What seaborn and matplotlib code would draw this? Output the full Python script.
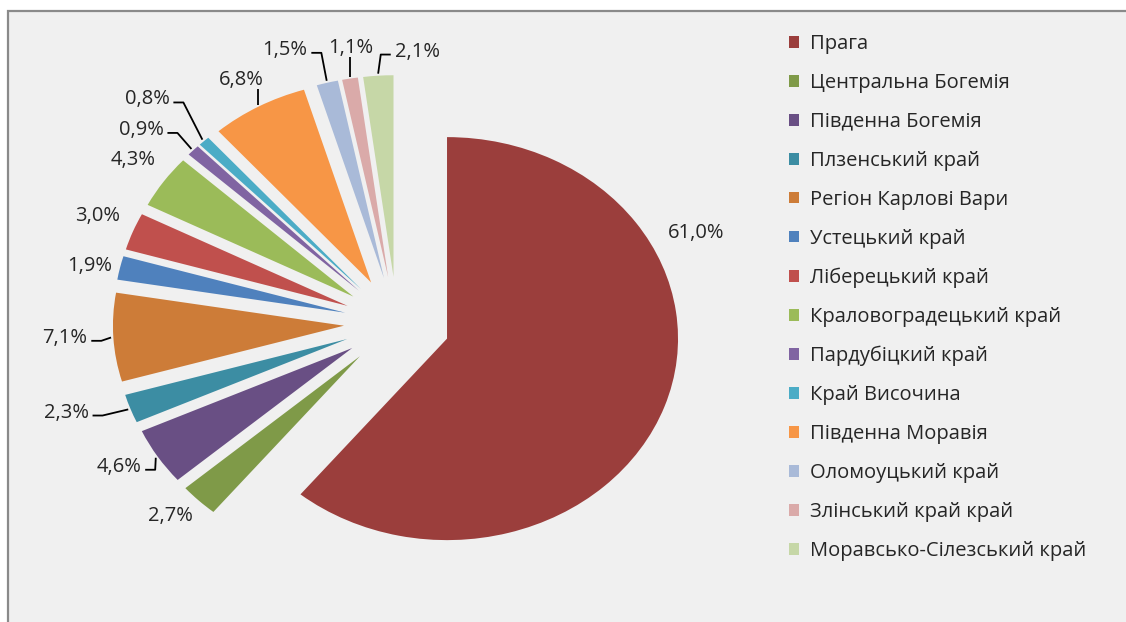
import matplotlib
matplotlib.use("Agg")
import numpy as np
import matplotlib.pyplot as plt
from matplotlib.patches import Rectangle
import seaborn as sns

# data
regions = [
    "Прага", "Центральна Богемія", "Південна Богемія", "Плзенський край",
    "Регіон Карлові Вари", "Устецький край", "Ліберецький край",
    "Краловоградецький край", "Пардубіцкий край", "Край Височина",
    "Південна Моравія", "Оломоуцький край", "Злінський край край",
    "Моравсько-Сілезський край",
]
shares = [61.0, 2.7, 4.6, 2.3, 7.1, 1.9, 3.0, 4.3, 0.9, 0.8, 6.8, 1.5, 1.1, 2.1]
region_colors = [
    "#9B3E3C", "#7F9A48", "#694F84", "#3C8DA3", "#CD7C38", "#4F81BD", "#C0504D",
    "#9BBB59", "#8064A2", "#4BACC6", "#F79646", "#A9BAD8", "#DAAAA9", "#C6D7A7",
]

# label placement: (angle shift in deg, radius from centre, draw leader line)
label_layout = [
    (38.7, 1.37, False),
    (-1.5, 1.37, False),
    (-2.0, 1.40, True),
    (-3.0, 1.50, True),
    (-0.4, 1.44, True),
    (0.9, 1.36, False),
    (-0.7, 1.40, False),
    (-0.5, 1.40, False),
    (3.3, 1.465, True),
    (1.5, 1.55, True),
    (0.1, 1.38, True),
    (5.5, 1.44, True),
    (-1.2, 1.38, True),
    (-7.5, 1.35, True),
]

sns.set_theme(style="white")
plt.rcParams["font.family"] = ["Open Sans", "DejaVu Sans"]
text_color = "#262626"

W, H = 1126, 622
fig = plt.figure(figsize=(W / 100, H / 100), dpi=100)
fig.patch.set_facecolor("white")

# grey panel with border on the left and top
fig.patches.append(Rectangle((8 / W, -0.05), 1.2, 1.05 - 11 / H,
                             transform=fig.transFigure, facecolor="#f0f0f0",
                             edgecolor="#8a8a8a", linewidth=1.6, zorder=-5))

ax = fig.add_axes([0, 0, 1, 1])
ax.set_facecolor("none")

palette = sns.color_palette(region_colors)
wedges, _ = ax.pie(shares, explode=[0.23] * len(shares), colors=palette,
                   startangle=90, counterclock=False,
                   wedgeprops=dict(linewidth=0))

# Excel-like stretched layout
ax.set_aspect("auto")
cx, cy, sx, sy = 397, 323, 231, 201.5
ax.set_xlim(-cx / sx, (W - cx) / sx)
ax.set_ylim((cy - H) / sy, cy / sy)
ax.axis("off")

texts = []
for w, val, (dang, rad, lead) in zip(wedges, shares, label_layout):
    mid = np.deg2rad((w.theta1 + w.theta2) / 2)
    a = mid + np.deg2rad(dang)
    t = ax.text(rad * np.cos(a), rad * np.sin(a), f"{val:.1f}%".replace(".", ","),
                ha="center", va="center", fontsize=14.5, color=text_color)
    texts.append((t, mid, lead))

fig.canvas.draw()
inv = ax.transData.inverted()
for t, mid, lead in texts:
    if not lead:
        continue
    bb = t.get_window_extent()
    px, py = ax.transData.transform((1.24 * np.cos(mid), 1.24 * np.sin(mid)))
    if bb.x0 - 2 <= px <= bb.x1 + 2:
        pts = [(px, bb.y0 + 1), (px, py)]
    else:
        side = 1 if px > bb.x1 else -1
        ax0 = bb.x1 + 4 if side > 0 else bb.x0 - 4
        ly = (bb.y0 + bb.y1) / 2 - 3
        pts = [(ax0, ly), (ax0 + side * 10, ly), (px, py)]
    d = inv.transform(pts)
    ax.plot(d[:, 0], d[:, 1], color="black", linewidth=1.3, solid_capstyle="butt")

leg = ax.legend(wedges, regions, loc="upper left",
                bbox_to_anchor=(789 / W, 1 - 34 / H), bbox_transform=fig.transFigure,
                frameon=False, fontsize=14.5, handlelength=0.52, handleheight=0.52,
                handletextpad=0.5, labelspacing=0.94, borderpad=0, borderaxespad=0)
for txt in leg.get_texts():
    txt.set_color(text_color)

fig.savefig("out.png", dpi=100)
